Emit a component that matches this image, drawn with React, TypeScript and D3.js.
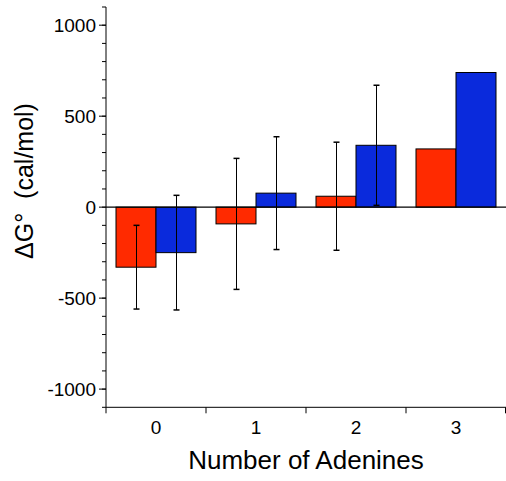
import React from "react";
import * as d3 from "d3";

const categories = ["0", "1", "2", "3"];
const seriesNames = ["red", "blue"];
const redValues = [-330, -92, 60, 320];
const blueValues = [-250, 77, 340, 740];
const redErrors = [230, 360, 297, 0];
const blueErrors = [315, 310, 330, 0];
const yMajorTicks = [-1000, -500, 0, 500, 1000];
const yMinorTicks = d3.range(-1100, 1101, 100);
const colors = ["#ff2a00", "#0a2adc"];
const xTitle = "Number of Adenines";
const yTitle = "ΔG°  (cal/mol)";

export default function App() {
  const W = 506, H = 481;
  const left = 106, right = 506, top = 7, bottom = 407.3;
  const x = d3.scaleBand<string>().domain(categories).range([left, right]).padding(0);
  const xs = d3.scaleBand<string>().domain(seriesNames).range([0, x.bandwidth()]).paddingInner(0).paddingOuter(0.25);
  const y = d3.scaleLinear().domain([-1100, 1100]).range([bottom, top]);
  const values = [redValues, blueValues];
  const errors = [redErrors, blueErrors];
  const font = "Helvetica, Arial, 'Liberation Sans', sans-serif";

  const bars: React.ReactNode[] = [];
  const errs: React.ReactNode[] = [];
  categories.forEach((c, i) => {
    seriesNames.forEach((s, j) => {
      const v = values[j][i];
      const bx = (x(c) as number) + (xs(s) as number);
      const bw = xs.bandwidth();
      bars.push(
        <rect key={`b${i}${j}`} x={bx} y={Math.min(y(v), y(0))} width={bw}
          height={Math.abs(y(v) - y(0))} fill={colors[j]} stroke="#000" strokeWidth={1} />
      );
      const e = errors[j][i];
      if (e > 0) {
        const cx = Math.round(bx + bw / 2) + 0.5;
        errs.push(
          <g key={`e${i}${j}`} stroke="#000" strokeWidth={1}>
            <line x1={cx} x2={cx} y1={y(v + e)} y2={y(v - e)} />
            <line x1={cx - 3} x2={cx + 3} y1={y(v + e)} y2={y(v + e)} strokeWidth={1.5} />
            <line x1={cx - 3} x2={cx + 3} y1={y(v - e)} y2={y(v - e)} strokeWidth={1.5} />
          </g>
        );
      }
    });
  });

  return (
    <svg width={W} height={H} style={{ position: "absolute", left: 0, top: 0, background: "#fff" }}>
      {bars}
      {errs}
      <line x1={left} x2={right} y1={y(0)} y2={y(0)} stroke="#000" strokeWidth={1.2} />
      <line x1={left} x2={left} y1={top} y2={bottom} stroke="#000" strokeWidth={1} />
      {yMinorTicks.map((t) => (
        <line key={`m${t}`} x1={left - 4} x2={left} y1={y(t)} y2={y(t)} stroke="#000" strokeWidth={1} />
      ))}
      {yMajorTicks.map((t) => (
        <g key={`M${t}`}>
          <line x1={left - 7} x2={left} y1={y(t)} y2={y(t)} stroke="#000" strokeWidth={1} />
          <text x={left - 10} y={y(t) + 6.5} textAnchor="end" fontFamily={font} fontSize={19} fill="#000">{t}</text>
        </g>
      ))}
      <line x1={left} x2={right} y1={bottom} y2={bottom} stroke="#000" strokeWidth={1} />
      {[...categories.map((c) => x(c) as number), right - 0.5].map((px, k) => (
        <line key={`xt${k}`} x1={px} x2={px} y1={bottom} y2={bottom + 6} stroke="#000" strokeWidth={1} />
      ))}
      {categories.map((c) => (
        <text key={`xl${c}`} x={(x(c) as number) + x.bandwidth() / 2} y={434} textAnchor="middle"
          fontFamily={font} fontSize={19} fill="#000">{c}</text>
      ))}
      <text x={(left + right) / 2} y={469} textAnchor="middle" fontFamily={font} fontSize={26} fill="#000">{xTitle}</text>
      <text transform={`translate(33, ${181}) rotate(-90)`} textAnchor="middle" fontFamily={font} fontSize={25}
        fill="#000" style={{ whiteSpace: "pre" }}>{yTitle}</text>
    </svg>
  );
}
